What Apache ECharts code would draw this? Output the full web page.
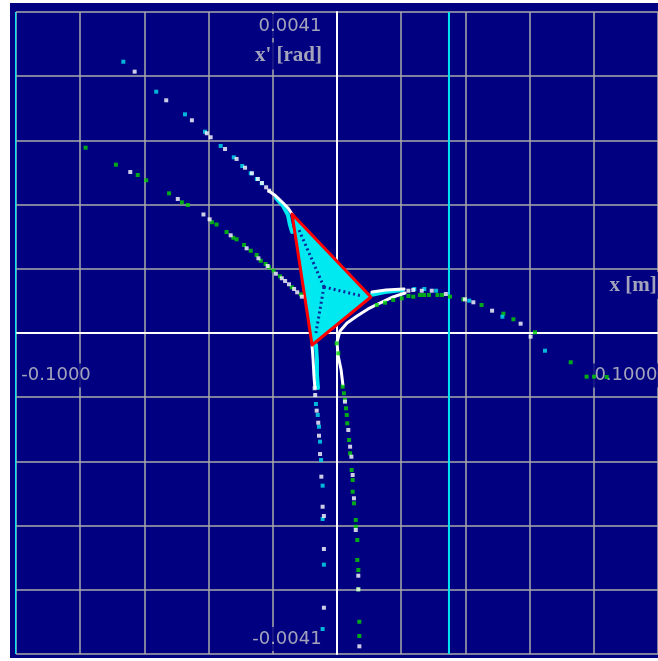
<!DOCTYPE html>
<html>
<head>
<meta charset="utf-8">
<script src="https://cdn.jsdelivr.net/npm/echarts@6/dist/echarts.min.js"></script>
<style>
html, body { margin: 0; padding: 0; background: #fff; }
#chart { position: absolute; left: 10px; top: 3px; width: 648px; height: 655px; background: #000080; }
</style>
</head>
<body>
<div id="chart"></div>
<script>
// phase space: x [m] vs x' [rad]
var xRange = [-0.125, 0.125];
var yRange = [-0.0041, 0.0041];
var tickLabels = ['0.0041', '-0.0041', '-0.1000', '0.1000'];
var tickAnchors = [[-0.0183, 0.003921], [-0.0195, -0.003909], [-0.1094, -0.000543], [0.1125, -0.000543]];
var axisNames = ["x' [rad]", 'x [m]'];
var nameAnchors = [[-0.0189, 0.003538], [0.1153, 0.000607]];
var apertureX = [-0.1253, 0.0436];

var cyanPts = [
    [-0.0832, 0.003465], [-0.0704, 0.003082], [-0.0592, 0.002793], [-0.0514, 0.002571], [-0.0453, 0.002389],
    [-0.0402, 0.002244], [-0.0369, 0.002133], [-0.0336, 0.002040], [-0.0312, 0.001967], [-0.0293, 0.001912],
    [-0.0082, -0.000907], [-0.0075, -0.001047], [-0.0070, -0.001197], [-0.0066, -0.001388], [-0.0062, -0.001622],
    [-0.0056, -0.001950], [-0.0056, -0.002376], [-0.0051, -0.002959], [-0.0056, -0.003781],
    [0.0301, 0.000562], [0.0340, 0.000562], [0.0386, 0.000540], [0.0515, 0.000413], [0.0644, 0.000208], [0.0810, -0.000226]
];
var whitePts = [
    [-0.0788, 0.003338], [-0.0665, 0.002972], [-0.0565, 0.002717], [-0.0507, 0.002551], [-0.0492, 0.002500],
    [-0.0436, 0.002350], [-0.0391, 0.002223], [-0.0358, 0.002111], [-0.0331, 0.002040], [-0.0308, 0.001967],
    [-0.0292, 0.001916], [-0.0276, 0.001861], [-0.0264, 0.001818],
    [-0.0805, 0.002056], [-0.0620, 0.001712], [-0.0520, 0.001514], [-0.0496, 0.001452], [-0.0414, 0.001248],
    [-0.0352, 0.001082], [-0.0306, 0.000954], [-0.0270, 0.000856], [-0.0238, 0.000757], [-0.0215, 0.000699],
    [-0.0202, 0.000664], [-0.0187, 0.000622], [-0.0167, 0.000562], [-0.0155, 0.000520], [-0.0137, 0.000464],
    [-0.0087, -0.000706], [-0.0085, -0.000792], [-0.0079, -0.000992], [-0.0073, -0.001146], [-0.0070, -0.001312],
    [-0.0066, -0.001546], [-0.0061, -0.001835], [-0.0056, -0.002219], [-0.0051, -0.002337], [-0.0051, -0.002759],
    [-0.0051, -0.003509],
    [0.0031, -0.000877], [0.0044, -0.001239], [0.0051, -0.001452], [0.0056, -0.001580], [0.0061, -0.001814],
    [0.0066, -0.002111], [0.0073, -0.002516], [0.0083, -0.003100], [0.0083, -0.003274], [0.0087, -0.004002],
    [0.0278, 0.000540], [0.0297, 0.000549], [0.0330, 0.000540], [0.0369, 0.000540], [0.0424, 0.000498],
    [0.0498, 0.000430], [0.0531, 0.000392], [0.0604, 0.000285], [0.0715, 0.000119], [0.0754, -0.000047]
];
var greenPts = [
    [-0.0979, 0.002367], [-0.0861, 0.002150], [-0.0776, 0.002018], [-0.0743, 0.001950], [-0.0654, 0.001784],
    [-0.0604, 0.001669], [-0.0581, 0.001635], [-0.0487, 0.001415], [-0.0469, 0.001386], [-0.0430, 0.001290],
    [-0.0404, 0.001217], [-0.0391, 0.001197], [-0.0362, 0.001124], [-0.0336, 0.001051], [-0.0313, 0.000996],
    [-0.0297, 0.000923], [-0.0278, 0.000881], [-0.0265, 0.000839], [-0.0247, 0.000796], [-0.0222, 0.000724],
    [-0.0176, 0.000584], [-0.0141, 0.000494],
    [-0.0001, -0.000132], [0.0005, -0.000259], [0.0022, -0.000686], [0.0027, -0.000770], [0.0031, -0.000856],
    [0.0035, -0.000962], [0.0038, -0.001047], [0.0040, -0.001153], [0.0047, -0.001367], [0.0051, -0.001537],
    [0.0057, -0.001750], [0.0061, -0.001878], [0.0061, -0.002027], [0.0066, -0.002175], [0.0073, -0.002389],
    [0.0073, -0.002474], [0.0079, -0.002644], [0.0079, -0.002899], [0.0083, -0.003027], [0.0083, -0.003274],
    [0.0087, -0.003688], [0.0087, -0.003870],
    [0.0155, 0.000358], [0.0187, 0.000387], [0.0219, 0.000422], [0.0252, 0.000443], [0.0278, 0.000473],
    [0.0297, 0.000464], [0.0323, 0.000485], [0.0339, 0.000485], [0.0358, 0.000485], [0.0391, 0.000485],
    [0.0409, 0.000485], [0.0440, 0.000464], [0.0492, 0.000430], [0.0563, 0.000358], [0.0648, 0.000247],
    [0.0687, 0.000175], [0.0771, 0.000009], [0.0910, -0.000374], [0.0972, -0.000558], [0.1001, -0.000558],
    [0.1050, -0.000562]
];

// densely tracked parts of the separatrix arms
var cyanBands = [
    [[-0.0238, 0.001724], [-0.0210, 0.001622], [-0.0191, 0.001507], [-0.0183, 0.001379], [-0.0175, 0.001290]],
    [[-0.0082, -0.000153], [-0.0078, -0.000345], [-0.0078, -0.000536], [-0.0074, -0.000703]],
    [[0.0132, 0.000485], [0.0187, 0.000524], [0.0257, 0.000549]]
];
var whiteBands = [
    [[-0.0265, 0.001814], [-0.0238, 0.001750], [-0.0210, 0.001660], [-0.0191, 0.001597], [-0.0175, 0.001520]],
    [[-0.0097, -0.000166], [-0.0093, -0.000345], [-0.0090, -0.000536], [-0.0086, -0.000703]],
    [[0.0023, -0.000664], [0.0016, -0.000473], [0.0004, -0.000281], [0.0000, -0.000115], [0.0012, 0.000026],
     [0.0039, 0.000128], [0.0078, 0.000217], [0.0121, 0.000307], [0.0167, 0.000383], [0.0218, 0.000460],
     [0.0265, 0.000511]],
    [[0.0136, 0.000524], [0.0191, 0.000549], [0.0261, 0.000562]]
];
var separatrix = [[-0.0175, 0.001520], [0.0132, 0.000460], [-0.0097, -0.000153]];
var spokeCenter = [-0.0051, 0.000588];
var spokeEnds = [[-0.0148, 0.001316], [-0.0082, 0.000000], [0.0097, 0.000473]];

var chart = echarts.init(document.getElementById('chart'));

var numFont = { color: '#cccccc', fontFamily: 'DejaVu Sans', fontSize: 18 };
var nameFont = { color: '#cccccc', fontFamily: 'Liberation Serif', fontWeight: 'bold', fontSize: 21 };

var labelData = [];
tickLabels.forEach(function (t, i) {
    labelData.push({ value: tickAnchors[i], name: t, label: numFont });
});
axisNames.forEach(function (t, i) {
    labelData.push({ value: nameAnchors[i], name: t, label: nameFont });
});

function bandSeries(bands, color, width, z) {
    return bands.map(function (b) {
        return {
            type: 'line', data: b, symbol: 'none', silent: true, z: z,
            lineStyle: { color: color, width: width, cap: 'round', join: 'round' }
        };
    });
}

function ptSeries(pts, color) {
    return {
        type: 'scatter', data: pts, symbol: 'rect', symbolSize: 4, silent: true, z: 6,
        itemStyle: { color: color }
    };
}

var series = [
    {
        type: 'scatter', data: labelData, symbolSize: 0, silent: true, z: 1,
        label: {
            show: true, position: 'inside', formatter: '{b}',
            backgroundColor: '#000080', padding: [3, 2]
        }
    },
    {
        type: 'custom', data: [separatrix[0]], silent: true, z: 3,
        renderItem: function (params, api) {
            var pts = separatrix.map(function (p) { return api.coord(p); });
            return {
                type: 'polygon',
                shape: { points: pts },
                style: { fill: '#00e8f0', stroke: '#ff0000', lineWidth: 3, lineJoin: 'round' }
            };
        }
    }
];
// aperture limits as full-height vertical lines
apertureX.forEach(function (v) {
    series.push({
        type: 'line', data: [[v, yRange[0]], [v, yRange[1]]], symbol: 'none', silent: true, z: 1, clip: false,
        lineStyle: { color: '#00e4f0', width: 2 }
    });
});
spokeEnds.forEach(function (e) {
    series.push({
        type: 'line', data: [spokeCenter, e], symbol: 'none', silent: true, z: 4,
        lineStyle: { color: '#0a2a9c', width: 3, type: [2, 3] }
    });
});
series = series.concat(bandSeries(cyanBands, '#00e8f0', 4, 2));
series = series.concat(bandSeries(whiteBands, '#ffffff', 3, 2));
series.push(ptSeries(greenPts, '#00d400'));
series.push(ptSeries(cyanPts, '#00e4f0'));
series.push(ptSeries(whitePts, '#ffffff'));

chart.setOption({
    animation: false,
    backgroundColor: 'transparent',
    grid: { left: 6, top: 9, width: 642, height: 642 },
    xAxis: {
        type: 'value', min: xRange[0], max: xRange[1], interval: 0.025,
        axisLine: { onZero: true, lineStyle: { color: '#ffffff', width: 2 } },
        axisTick: { show: false }, axisLabel: { show: false },
        splitLine: { show: true, lineStyle: { color: '#aaaaaa', width: 1.5 } }
    },
    yAxis: {
        type: 'value', min: yRange[0], max: yRange[1], interval: 0.00082,
        axisLine: { onZero: true, lineStyle: { color: '#ffffff', width: 2 } },
        axisTick: { show: false }, axisLabel: { show: false },
        splitLine: { show: true, lineStyle: { color: '#aaaaaa', width: 1.5 } }
    },
    series: series
});
</script>
</body>
</html>
